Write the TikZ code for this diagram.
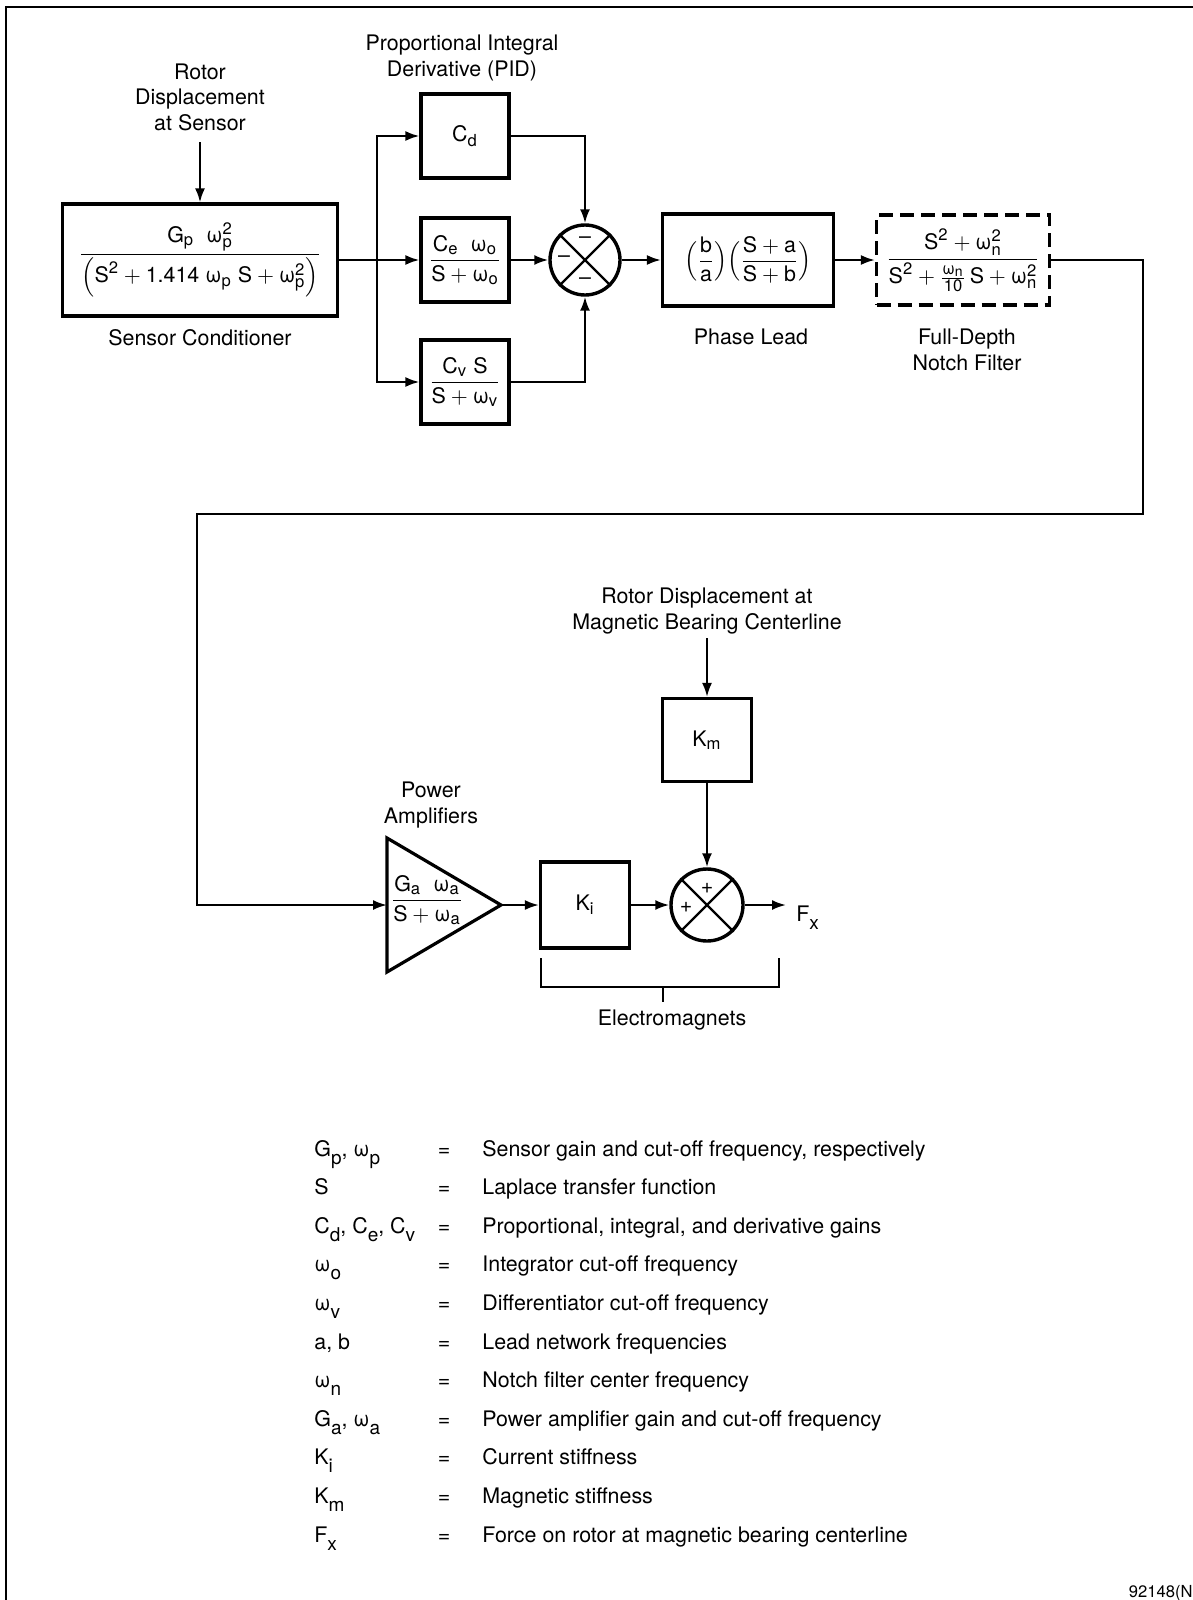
\documentclass[tikz,border=0pt]{standalone}
\usepackage{amsmath}
\usepackage{fontspec}
\setmainfont{TeX Gyre Heros}
\usetikzlibrary{arrows.meta}
\DeclareMathSizes{10.7}{10.7}{8.3}{7}

\newcommand{\tv}[1]{\text{#1}}
\newcommand{\om}{\text{ω}}
\newcommand{\lsub}[1]{\raisebox{-4pt}{\fontsize{9.5}{10}\selectfont #1}}

\tikzset{
  blk/.style={draw, line width=1.6pt, inner sep=2pt},
  sumjn/.style={draw, circle, line width=1.7pt, minimum size=35pt, inner sep=0pt},
  lbl/.style={align=center, inner sep=1pt},
  wire/.style={line width=1.1pt},
}

\begin{document}
\begin{tikzpicture}[x=0.5pt, y=-0.5pt, >={Latex[length=7pt,width=5pt]},
    font=\fontsize{10.7}{12.8}\selectfont]
    \useasboundingbox (0,0) rectangle (1193,1600);

    % Frame
    \draw[line width=1pt] (6,1600) -- (6,7) -- (1193,7);

    % Sensor conditioner
    \node[lbl] (rotlab) at (200,97) {Rotor\\Displacement\\at Sensor};
    \coordinate (rotin) at (200,142);
    \node[blk, minimum width=137.5pt, minimum height=56pt] (sens) at (200,260)
      {$\dfrac{\tv{G}_\tv{p}\;\;\om^\tv{2}_\tv{p}}
        {\Bigl(\tv{S}^\tv{2} + \tv{1.414}\;\om_\tv{p}\;\tv{S} + \om^\tv{2}_\tv{p}\Bigr)}$};
    \node (senslab) at (200,338) {Sensor Conditioner};
    \draw[wire,->] (rotin) -- (sens.north);

    % PID
    \node[lbl] (pidlab) at (462,58) {Proportional Integral\\Derivative (PID)};
    \node[blk, minimum width=44pt, minimum height=42pt] (cd) at (465,136) {$\tv{C}_\tv{d}$};
    \node[blk, minimum width=44pt, minimum height=42pt] (ce) at (465,260)
      {$\dfrac{\tv{C}_\tv{e}\;\;\om_\tv{o}}{\tv{S} + \om_\tv{o}}$};
    \node[blk, minimum width=44pt, minimum height=42pt] (cv) at (465,382)
      {$\dfrac{\tv{C}_\tv{v}\;\tv{S}}{\tv{S} + \om_\tv{v}}$};

    % Summing junction (PID)
    \node[sumjn] (sum1) at (585,260) {};
    \draw[wire] (sum1.45) -- (sum1.225) (sum1.135) -- (sum1.-45);
    \node (m1) at (585,240) {--};
    \node (m2) at (564,259) {--};
    \node (m3) at (585,281) {--};

    \coordinate (br) at (377,260);
    \draw[wire,->] (sens.east) -- (ce.west);
    \draw[wire,->] (br) |- (cd.west);
    \draw[wire,->] (br) |- (cv.west);
    \draw[wire,->] (ce.east) -- (sum1.west);
    \draw[wire,->] (cd.east) -| (sum1.north);
    \draw[wire,->] (cv.east) -| (sum1.south);

    % Phase lead
    \node[blk, minimum width=85.5pt, minimum height=46pt] (lead) at (748,260)
      {$\Bigl(\dfrac{\tv{b}}{\tv{a}}\Bigr)\Bigl(\dfrac{\tv{S} + \tv{a}}{\tv{S} + \tv{b}}\Bigr)$};
    \node (leadlab) at (751,337) {Phase Lead};
    \draw[wire,->] (sum1.east) -- (lead.west);

    % Notch filter
    \node[blk, dash pattern=on 7pt off 3.5pt, minimum width=86.5pt, minimum height=45pt] (notch) at (963,260)
      {$\dfrac{\tv{S}^\tv{2} + \om^\tv{2}_\tv{n}}
        {\tv{S}^\tv{2} + \frac{\om_\tv{n}}{\tv{10}}\,\tv{S} + \om^\tv{2}_\tv{n}}$};
    \node[lbl] (notchlab) at (967,350) {Full-Depth\\Notch Filter};
    \draw[wire,->] (lead.east) -- (notch.west);

    % Return path to amplifiers
    \coordinate (fbR) at (1143,514);
    \coordinate (fbL) at (197,514);
    \coordinate (ampin) at (387,905);
    \coordinate (ampout) at (501,905);
    \draw[wire,->] (notch.east) -| (fbR) -- (fbL) |- (ampin);

    % Power amplifiers
    \draw[line width=1.6pt, line join=miter] (387,838) -- (ampout) -- (387,972) -- cycle;
    \node (amp) at (427,900) {$\dfrac{\tv{G}_\tv{a}\;\;\om_\tv{a}}{\tv{S} + \om_\tv{a}}$};
    \node[lbl] (amplab) at (431,805) {Power\\Amplifiers};

    % Electromagnets
    \node[blk, minimum width=44.5pt, minimum height=43pt] (ki) at (585,905) {$\tv{K}_\tv{i}$};
    \node[sumjn, minimum size=36pt] (sum2) at (707,905) {};
    \draw[wire] (sum2.45) -- (sum2.225) (sum2.135) -- (sum2.-45);
    \node (p1) at (707,888) {+};
    \node (p2) at (686,907) {+};
    \node[blk, minimum width=44.5pt, minimum height=41.5pt] (km) at (707,740) {$\tv{K}_\tv{m}$};
    \node[lbl] (kmlab) at (707,611) {Rotor Displacement at\\Magnetic Bearing Centerline};
    \coordinate (kmin) at (707,638);
    \coordinate (fxend) at (786,905);
    \node[anchor=base west, inner sep=0pt] (fx) at (796,921) {F\lsub{x}};

    \draw[wire,->] (ampout) -- (ki.west);
    \draw[wire,->] (ki.east) -- (sum2.west);
    \draw[wire,->] (kmin) -- (km.north);
    \draw[wire,->] (km.south) -- (sum2.north);
    \draw[wire,->] (sum2.east) -- (fxend);

    \draw[wire] (541,958) -- (541,987) -- (779,987) -- (779,958);
    \draw[wire] (663,987) -- (663,1002);
    \node (emlab) at (672,1020) {Electromagnets};

    % Legend
    \foreach \sym/\desc [count=\i] in {
        {G\lsub{p}, ω\lsub{p}}/{Sensor gain and cut-off frequency, respectively},
        S/{Laplace transfer function},
        {C\lsub{d}, C\lsub{e}, C\lsub{v}}/{Proportional, integral, and derivative gains},
        {ω\lsub{o}}/{Integrator cut-off frequency},
        {ω\lsub{v}}/{Differentiator cut-off frequency},
        {a, b}/{Lead network frequencies},
        {ω\lsub{n}}/{Notch filter center frequency},
        {G\lsub{a}, ω\lsub{a}}/{Power amplifier gain and cut-off frequency},
        {K\lsub{i}}/{Current stiffness},
        {K\lsub{m}}/{Magnetic stiffness},
        {F\lsub{x}}/{Force on rotor at magnetic bearing centerline}}{
      \node[anchor=base west, inner sep=0pt] (sym\i) at (314,{1156+(\i-1)*38.6}) {\sym};
      \node[anchor=base, inner sep=0pt] (eq\i) at (444,{1156+(\i-1)*38.6}) {=};
      \node[anchor=base west, inner sep=0pt] (desc\i) at (482,{1156+(\i-1)*38.6}) {\desc};
    }

    \node[anchor=base east, inner sep=0pt, font=\fontsize{8.3}{10}\selectfont] (code) at (1193,1597) {92148(N};

  \end{tikzpicture}
\end{document}
